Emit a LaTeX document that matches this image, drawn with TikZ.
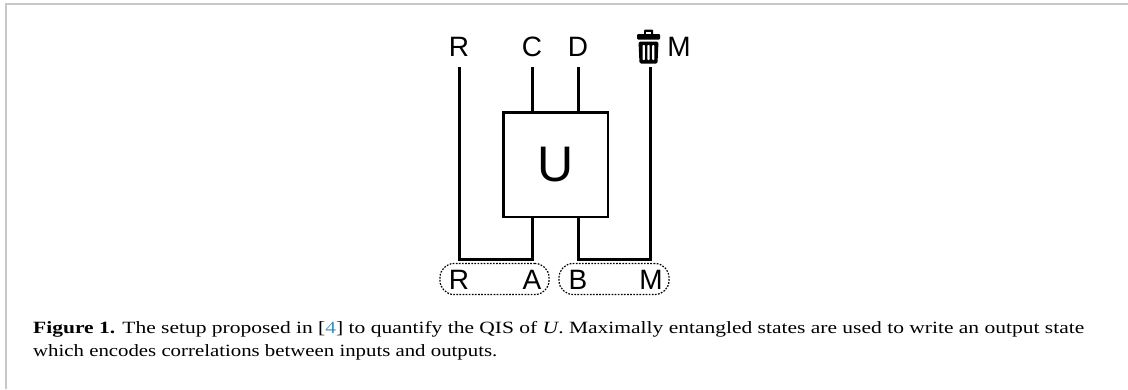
\documentclass[tikz,border=0pt]{standalone}
\usepackage{fontspec}
\setmainfont{Liberation Serif}
\setsansfont{Liberation Sans}
\definecolor{framegray}{HTML}{C8C8C8}
\definecolor{citeblue}{HTML}{3B8FC9}
\begin{document}
\begin{tikzpicture}[x=1pt,y=-1pt,
  wire/.style={line width=3pt,line join=miter,line cap=butt},
  lbl/.style={font=\sffamily\fontsize{28}{30}\selectfont,inner sep=0pt},
  grp/.style={draw,rounded corners=14pt,dash pattern=on 1.7pt off 1.4pt,line width=1.2pt,minimum height=31pt,inner sep=0pt},
  captext/.style={font=\fontsize{17.2}{20}\selectfont,anchor=base west,inner sep=0pt}]
\useasboundingbox (0,0) rectangle (1128,389);
\draw[framegray,line width=2pt] (6,389) -- (6,4) -- (1128,4);
% top labels
\node[lbl] (tR) at (459,47) {R};
\node[lbl] (tC) at (532,47) {C};
\node[lbl] (tD) at (578,47) {D};
\node[lbl] (tM) at (679,47) {M};
% trash icon
\coordinate (bin) at (648.5,47);
\begin{scope}[shift={(bin)}]
  \fill[rounded corners=1pt] (-4.5,-17.5) rectangle (4.5,-12);
  \fill[white] (-2.5,-15.5) rectangle (2.5,-12.5);
  \fill[rounded corners=1pt] (-11.5,-13) rectangle (11.5,-7.5);
  \fill[rounded corners=1.5pt] (-10,-5.5) -- (10,-5.5) -- (9,16.5) -- (-9,16.5) -- cycle;
  \foreach \xx in {-4.8,0,4.8} \fill[white,rounded corners=0.8pt] (\xx-1.1,-2) rectangle (\xx+1.1,13);
\end{scope}
% gate
\node[draw,line width=2.5pt,minimum size=104.5pt,inner sep=0pt,
  font=\sffamily\fontsize{50}{55}\selectfont] (U) at (555.5,164.5) {U};
% wire coordinates
\coordinate (rt) at (459,67);
\coordinate (ct) at (532,67);
\coordinate (dt) at (578,67);
\coordinate (mt) at (650.5,67);
\coordinate (rb) at (459,259);
\coordinate (ab) at (532,259);
\coordinate (bb) at (578,259);
\coordinate (mb) at (650.5,259);
\draw[wire] (ct) -- (ct |- U.north);
\draw[wire] (dt) -- (dt |- U.north);
\draw[wire] (rt) -- (rb) -- (ab) -- (ab |- U.south);
\draw[wire] (mt) -- (mb) -- (bb) -- (bb |- U.south);
% grouped states
\node[grp,minimum width=109pt] (gRA) at (494.5,279) {};
\node[grp,minimum width=110pt] (gBM) at (614,279) {};
\node[lbl] (bR) at (459,280) {R};
\node[lbl] (bA) at (532,280) {A};
\node[lbl] (bB) at (578,280) {B};
\node[lbl] (bM) at (651,280) {M};
% caption
\node[captext] (cap1) at (33,333) {\scalebox{1.25}[1]{\textbf{Figure 1.} The setup proposed in [\textcolor{citeblue}{4}] to quantify the QIS of \textit{U}. Maximally entangled states are used to write an output state}};
\node[captext] (cap2) at (33,356) {\scalebox{1.21}[1]{which encodes correlations between inputs and outputs.}};
\end{tikzpicture}
\end{document}
